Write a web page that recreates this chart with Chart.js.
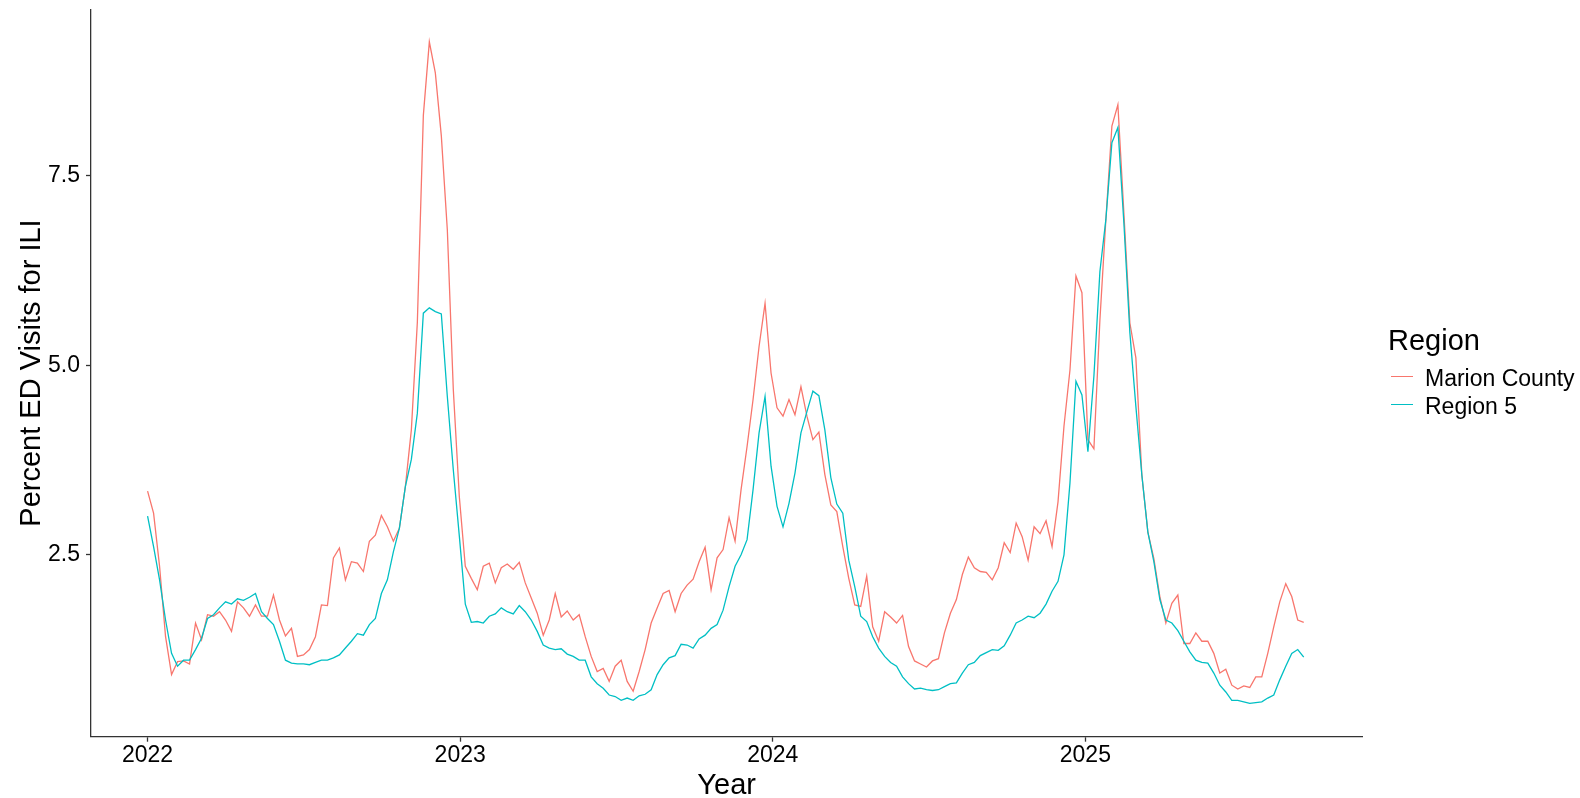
<!DOCTYPE html>
<html>
<head>
<meta charset="utf-8">
<script src="https://cdn.jsdelivr.net/npm/chart.js@4.4.1/dist/chart.umd.min.js"></script>
<style>
  html, body { margin: 0; padding: 0; background: #fff; }
  #wrap { position: relative; width: 1580px; height: 798px; }
  canvas { position: absolute; left: 0; top: 0; }
  .lg { position: absolute; font-family: "Liberation Sans", Arial, sans-serif; color: #000; white-space: nowrap; }
  .lg-title { font-size: 29px; line-height: 29px; }
  .lg-text { font-size: 23px; line-height: 23px; }
  .lg-key { position: absolute; width: 22px; height: 1.4px; }
</style>
</head>
<body>
<div id="wrap">
  <canvas id="ili-chart" width="1580" height="798"></canvas>
  <div class="lg lg-title" style="left:1388px; top:326px;">Region</div>
  <div class="lg-key" style="left:1391px; top:376px; background:#F8766D;"></div>
  <div class="lg lg-text" style="left:1425px; top:367px;">Marion County</div>
  <div class="lg-key" style="left:1391px; top:404px; background:#00BFC4;"></div>
  <div class="lg lg-text" style="left:1425px; top:395px;">Region 5</div>
</div>
<script>
// weekly series, first week starting 2022-01-01
const firstWeek = Date.UTC(2022, 0, 1);

const marionCounty = [
  3.34, 3.05, 2.35, 1.42, 0.92, 1.09, 1.10, 1.06, 1.60, 1.38,
  1.71, 1.69, 1.75, 1.64, 1.49, 1.88, 1.80, 1.69, 1.84, 1.69,
  1.69, 1.97, 1.64, 1.43, 1.53, 1.16, 1.18, 1.25, 1.42, 1.84,
  1.83, 2.46, 2.59, 2.17, 2.41, 2.39, 2.28, 2.68, 2.76, 3.02,
  2.87, 2.68, 2.85, 3.40, 4.15, 5.57, 8.30, 9.27, 8.86, 8.03,
  6.79, 4.68, 3.27, 2.35, 2.19, 2.04, 2.35, 2.39, 2.13, 2.33,
  2.38, 2.31, 2.40, 2.13, 1.93, 1.73, 1.44, 1.64, 1.99, 1.68,
  1.76, 1.64, 1.71, 1.42, 1.16, 0.96, 1.00, 0.83, 1.03, 1.11,
  0.83, 0.70, 0.96, 1.25, 1.60, 1.80, 1.99, 2.03, 1.75, 1.99,
  2.10, 2.18, 2.41, 2.60, 2.04, 2.46, 2.57, 2.99, 2.68, 3.36,
  3.93, 4.55, 5.25, 5.82, 4.90, 4.44, 4.33, 4.55, 4.35, 4.72,
  4.33, 4.02, 4.12, 3.56, 3.16, 3.07, 2.61, 2.19, 1.84, 1.82,
  2.22, 1.55, 1.36, 1.75, 1.68, 1.60, 1.70, 1.29, 1.10, 1.06,
  1.02, 1.10, 1.13, 1.47, 1.73, 1.91, 2.24, 2.47, 2.33, 2.28,
  2.27, 2.17, 2.33, 2.66, 2.53, 2.92, 2.74, 2.43, 2.87, 2.78,
  2.95, 2.61, 3.20, 4.20, 4.94, 6.18, 5.96, 4.02, 3.90, 5.60,
  6.93, 8.16, 8.44, 7.01, 5.56, 5.10, 3.55, 2.80, 2.45, 1.95,
  1.60, 1.86, 1.97, 1.33, 1.33, 1.47, 1.36, 1.36, 1.20, 0.94,
  0.99, 0.78, 0.73, 0.77, 0.75, 0.89, 0.89, 1.20, 1.55, 1.88,
  2.12, 1.95, 1.64, 1.61,
];

const region5 = [
  3.01, 2.61, 2.17, 1.64, 1.20, 1.03, 1.11, 1.11, 1.25, 1.40,
  1.66, 1.71, 1.80, 1.88, 1.85, 1.92, 1.90, 1.94, 1.99, 1.75,
  1.66, 1.58, 1.36, 1.11, 1.07, 1.06, 1.06, 1.05, 1.08, 1.11,
  1.11, 1.14, 1.18, 1.27, 1.36, 1.46, 1.44, 1.58, 1.66, 1.99,
  2.17, 2.54, 2.85, 3.40, 3.76, 4.37, 5.69, 5.76, 5.71, 5.68,
  4.59, 3.62, 2.75, 1.85, 1.61, 1.62, 1.60, 1.69, 1.72, 1.80,
  1.75, 1.72, 1.83, 1.75, 1.64, 1.49, 1.31, 1.27, 1.25, 1.26,
  1.19, 1.16, 1.11, 1.11, 0.89, 0.80, 0.74, 0.65, 0.63, 0.58,
  0.61, 0.58, 0.64, 0.66, 0.72, 0.92, 1.05, 1.14, 1.17, 1.32,
  1.31, 1.27, 1.39, 1.44, 1.53, 1.58, 1.77, 2.08, 2.35, 2.50,
  2.70, 3.36, 4.11, 4.59, 3.67, 3.14, 2.87, 3.18, 3.58, 4.11,
  4.39, 4.66, 4.60, 4.15, 3.52, 3.17, 3.05, 2.43, 2.08, 1.69,
  1.62, 1.42, 1.27, 1.16, 1.08, 1.03, 0.89, 0.80, 0.73, 0.74,
  0.72, 0.71, 0.72, 0.76, 0.80, 0.81, 0.94, 1.05, 1.08, 1.17,
  1.21, 1.25, 1.24, 1.30, 1.44, 1.60, 1.64, 1.69, 1.67, 1.73,
  1.85, 2.02, 2.15, 2.50, 3.45, 4.79, 4.61, 3.86, 4.86, 6.24,
  6.93, 7.94, 8.14, 6.88, 5.43, 4.46, 3.55, 2.80, 2.41, 1.91,
  1.64, 1.60, 1.50, 1.36, 1.22, 1.11, 1.08, 1.07, 0.94, 0.78,
  0.69, 0.58, 0.58, 0.56, 0.54, 0.55, 0.56, 0.61, 0.65, 0.85,
  1.03, 1.20, 1.25, 1.15,
];

const xTickYears = [2022, 2023, 2024, 2025];
const yTickValues = [2.5, 5.0, 7.5];

const COLORS = {
  marion: '#F8766D',
  region5: '#00BFC4',
};

const FONT = '"Liberation Sans", Arial, sans-serif';

function decimalYear(ms) {
  const d = new Date(ms);
  const y = d.getUTCFullYear();
  const start = Date.UTC(y, 0, 1);
  const end = Date.UTC(y + 1, 0, 1);
  return y + (ms - start) / (end - start);
}

const weekX = marionCounty.map((_, i) => decimalYear(firstWeek + i * 7 * 86400000));

function toPoints(values) {
  return values.map((v, i) => ({ x: weekX[i], y: v }));
}

const ctx = document.getElementById('ili-chart');

new Chart(ctx, {
  type: 'line',
  data: {
    datasets: [
      {
        label: 'Marion County',
        data: toPoints(marionCounty),
        borderColor: COLORS.marion,
        borderWidth: 1.3,
        pointRadius: 0,
        tension: 0,
        order: 2,
      },
      {
        label: 'Region 5',
        data: toPoints(region5),
        borderColor: COLORS.region5,
        borderWidth: 1.3,
        pointRadius: 0,
        tension: 0,
        order: 1,
      },
    ],
  },
  options: {
    responsive: false,
    animation: false,
    devicePixelRatio: 1,
    layout: { padding: { top: 9.3, right: 217.7, left: 0, bottom: 0 } },
    plugins: {
      legend: { display: false },
      tooltip: { enabled: false },
    },
    scales: {
      x: {
        type: 'linear',
        min: 2021.819,
        max: 2025.886,
        afterBuildTicks: scale => { scale.ticks = xTickYears.map(v => ({ value: v })); },
        afterFit: scale => {
          scale.height = 61.3;
          scale.paddingLeft = 0;
          scale.paddingRight = 0;
        },
        grid: { drawOnChartArea: false, tickLength: 5, tickColor: '#333', tickWidth: 1.3 },
        border: { display: true, color: '#333', width: 1.3 },
        ticks: {
          padding: 2,
          color: '#000',
          font: { family: FONT, size: 23, lineHeight: 1 },
          callback: v => String(v),
        },
        title: {
          display: true,
          text: 'Year',
          color: '#000',
          font: { family: FONT, size: 29, lineHeight: 1 },
          padding: { top: 0, bottom: -2.3 },
        },
      },
      y: {
        type: 'linear',
        min: 0.10,
        max: 9.70,
        afterBuildTicks: scale => { scale.ticks = yTickValues.map(v => ({ value: v })); },
        afterFit: scale => {
          scale.width = 91;
          scale.paddingTop = 0;
          scale.paddingBottom = 0;
        },
        grid: { drawOnChartArea: false, tickLength: 5, tickColor: '#333', tickWidth: 1.3 },
        border: { display: true, color: '#333', width: 1.3 },
        ticks: {
          padding: 6,
          color: '#000',
          font: { family: FONT, size: 23, lineHeight: 1 },
          callback: v => v.toFixed(1),
        },
        title: {
          display: true,
          text: 'Percent ED Visits for ILI',
          color: '#000',
          font: { family: FONT, size: 29, lineHeight: 1 },
          padding: { top: 17.2, bottom: 0 },
        },
      },
    },
  },
});
</script>
</body>
</html>
